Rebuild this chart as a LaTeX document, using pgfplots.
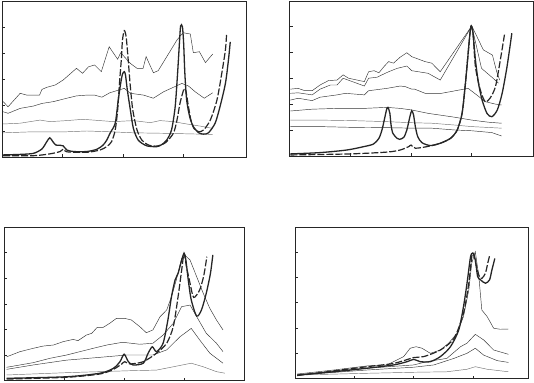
\documentclass[border=0pt]{standalone}
\usepackage{pgfplots}
\pgfplotsset{compat=1.18}
\pgfplotsset{
  panel/.style={
    scale only axis, anchor=south west,
    xmin=0, ymin=0,
    xtick={1,2,3}, ytick={1,2,3,4,5},
    xticklabels={,,}, yticklabels={,,,,},
    tick pos=left, tick align=inside,
    major tick length=3pt,
    axis line style={line width=0.8pt, black!85},
    every tick/.style={line width=0.6pt, black!85},
    clip=true,
  },
  thin/.style={line width=0.45pt, black!80, no marks},
  thinl/.style={line width=0.45pt, black!55, no marks},
  sol/.style={line width=1.3pt, black!85, no marks, smooth, tension=0.45},
  dsh/.style={line width=1.2pt, black!85, no marks, smooth, tension=0.45, dash pattern=on 7pt off 2pt},
}
\begin{document}
\begin{tikzpicture}[x=1pt,y=1pt]
\path[use as bounding box] (0,0) rectangle (534,382);

% ---------------- Panel 1 (top left)
\begin{axis}[panel, at={(2pt,225pt)}, width=244pt, height=156pt, xmax=4.03, ymax=6]
\addplot[thin] coordinates {(0.02,2.13)(0.10,1.93)(0.30,2.45)(0.41,2.38)(0.62,2.38)(0.66,2.60)(0.74,2.68)(0.88,2.77)(1.01,2.96)(1.23,3.41)(1.33,3.22)(1.43,3.47)(1.53,3.54)(1.64,3.28)(1.77,4.24)(1.91,3.76)(1.96,4.01)(2.12,3.60)(2.23,3.41)(2.33,3.41)(2.38,3.86)(2.50,3.24)(2.58,3.32)(2.89,4.50)(2.99,4.78)(3.11,4.73)(3.16,4.01)(3.26,4.05)(3.36,3.63)(3.48,3.96)};
\addplot[thin] coordinates {(0.02,1.74)(0.10,1.68)(0.30,1.87)(0.52,1.96)(0.66,2.06)(0.85,2.13)(1.07,2.26)(1.23,2.35)(1.40,2.38)(1.53,2.38)(1.65,2.30)(1.78,2.47)(2.02,2.64)(2.12,2.45)(2.34,2.38)(2.50,2.26)(2.67,2.51)(2.83,2.68)(2.97,2.83)(3.08,2.73)(3.19,2.51)(3.34,2.26)(3.48,2.47)};
\addplot[thinl] coordinates {(0.02,1.27)(0.30,1.30)(0.63,1.42)(0.79,1.36)(1.07,1.40)(1.34,1.45)(1.62,1.40)(1.84,1.36)(2.17,1.40)(2.45,1.32)(2.61,1.40)(2.83,1.36)(3.05,1.27)(3.27,1.19)(3.48,1.10)};
\addplot[thinl] coordinates {(0.02,0.93)(0.52,0.97)(1.07,0.97)(1.40,1.00)(1.78,0.97)(2.17,0.93)(2.72,0.91)(3.27,0.88)(3.48,0.87)};
\addplot[sol] coordinates {(0.02,0.08)(0.30,0.10)(0.52,0.14)(0.66,0.31)(0.74,0.59)(0.79,0.74)(0.84,0.59)(0.89,0.46)(0.96,0.45)(1.01,0.43)(1.07,0.27)(1.18,0.21)(1.40,0.21)(1.57,0.30)(1.67,0.46)(1.73,0.65)(1.79,0.94)(1.87,1.30)(1.92,2.19)(1.96,2.83)(1.99,3.19)(2.02,3.28)(2.04,3.15)(2.07,2.58)(2.12,1.81)(2.17,1.10)(2.25,0.65)(2.39,0.43)(2.56,0.40)(2.64,0.48)(2.72,0.65)(2.80,1.04)(2.86,1.93)(2.90,3.22)(2.93,4.37)(2.95,5.04)(2.98,5.01)(3.00,4.37)(3.02,3.22)(3.05,2.19)(3.10,1.55)(3.16,1.17)(3.25,0.93)(3.33,0.88)(3.41,0.93)(3.52,1.30)(3.60,1.93)(3.69,2.83)(3.74,3.73)(3.77,4.43)};
\addplot[dsh] coordinates {(0.02,0.05)(0.52,0.05)(0.79,0.12)(0.96,0.21)(1.01,0.30)(1.07,0.20)(1.40,0.18)(1.62,0.27)(1.73,0.40)(1.81,0.59)(1.87,1.04)(1.91,1.81)(1.94,2.83)(1.97,3.73)(1.99,4.50)(2.02,4.86)(2.05,4.63)(2.08,3.86)(2.12,2.70)(2.16,1.81)(2.23,1.04)(2.31,0.65)(2.42,0.46)(2.56,0.42)(2.70,0.55)(2.83,0.91)(2.89,1.42)(2.94,2.07)(2.99,2.51)(3.01,2.64)(3.04,2.51)(3.08,1.93)(3.12,1.42)(3.17,1.10)(3.25,0.97)(3.33,1.04)(3.44,1.42)(3.55,2.19)(3.63,3.22)(3.69,4.12)(3.71,4.76)};
\end{axis}

% ---------------- Panel 2 (top right)
\begin{axis}[panel, at={(289.7pt,226pt)}, width=244pt, height=155pt, xmax=4.02, ymax=5.96]
\addplot[thin] coordinates {(0.01,2.57)(0.14,2.60)(0.25,2.51)(0.37,2.51)(0.50,2.73)(0.64,2.90)(0.78,2.92)(0.88,3.12)(0.97,2.99)(1.23,2.86)(1.30,3.24)(1.39,3.28)(1.47,3.20)(1.55,3.43)(1.63,3.63)(1.71,3.57)(1.82,3.80)(1.93,3.97)(2.01,3.82)(2.23,3.63)(2.34,3.57)(2.48,3.24)(3.00,5.00)(3.19,4.08)(3.34,3.88)(3.41,3.24)(3.46,2.92)};
\addplot[thin] coordinates {(0.01,2.41)(0.14,2.43)(0.37,2.35)(0.50,2.57)(0.67,2.73)(0.78,2.73)(0.88,2.99)(1.23,2.69)(1.30,2.99)(1.44,3.03)(1.52,3.12)(1.63,3.24)(1.77,3.37)(1.93,3.46)(2.01,3.28)(2.28,3.18)(2.48,2.92)(3.00,5.00)(3.16,3.37)(3.35,2.99)(3.44,2.80)};
\addplot[thin] coordinates {(0.01,2.15)(0.14,2.22)(0.37,2.13)(0.50,2.26)(0.78,2.35)(0.92,2.41)(1.23,2.35)(1.30,2.51)(1.60,2.60)(1.82,2.69)(1.90,2.67)(2.01,2.57)(2.06,2.57)(2.23,2.41)(2.50,2.41)(2.94,2.60)(3.08,2.35)(3.22,2.09)(3.38,2.00)(3.49,1.96)};
\addplot[thin] coordinates {(0.01,1.73)(0.37,1.80)(0.78,1.83)(1.22,1.83)(1.60,1.87)(1.82,1.83)(2.01,1.77)(2.28,1.64)(2.72,1.49)(3.00,1.38)(3.27,1.30)(3.49,1.26)};
\addplot[thinl] coordinates {(0.01,1.38)(0.50,1.38)(1.05,1.36)(1.60,1.32)(2.01,1.28)(2.34,1.26)(2.72,1.19)(3.00,1.13)(3.49,1.07)};
\addplot[thin] coordinates {(0.01,1.13)(0.50,1.13)(1.05,1.10)(1.60,1.09)(2.01,1.07)(2.34,1.07)(2.72,1.00)(3.00,0.97)(3.33,0.90)(3.49,0.77)};
\addplot[sol] coordinates {(0.01,0.08)(0.50,0.13)(0.94,0.23)(1.22,0.36)(1.38,0.46)(1.47,0.68)(1.52,1.00)(1.55,1.30)(1.58,1.62)(1.60,1.82)(1.62,1.87)(1.65,1.64)(1.67,1.19)(1.70,0.87)(1.77,0.68)(1.81,0.64)(1.88,0.72)(1.93,1.00)(1.98,1.51)(2.01,1.74)(2.04,1.58)(2.07,1.13)(2.11,0.74)(2.18,0.51)(2.32,0.40)(2.48,0.49)(2.65,0.68)(2.76,1.00)(2.84,1.64)(2.89,2.67)(2.93,3.69)(2.97,4.72)(2.99,5.00)(3.02,4.72)(3.06,3.69)(3.11,2.80)(3.17,2.15)(3.25,1.64)(3.33,1.51)(3.42,1.77)(3.50,2.41)(3.58,3.43)(3.66,4.72)};
\addplot[dsh] coordinates {(0.01,0.04)(0.99,0.08)(1.60,0.15)(1.82,0.23)(1.96,0.36)(2.00,0.42)(2.07,0.30)(2.26,0.36)(2.48,0.49)(2.65,0.68)(2.76,1.00)(2.84,1.64)(2.89,2.67)(2.93,3.69)(2.97,4.72)(2.99,5.00)(3.02,4.72)(3.06,3.43)(3.14,2.54)(3.22,2.09)(3.30,2.22)(3.39,2.67)(3.47,3.69)(3.54,4.69)};
\end{axis}

% ---------------- Panel 3 (bottom left)
\begin{axis}[panel, at={(4.3pt,1.4pt)}, width=239.7pt, height=153.3pt, xmax=4.0, ymax=5.99]
\addplot[thin] coordinates {(0.04,0.93)(0.26,1.13)(0.48,1.26)(0.65,1.35)(0.82,1.39)(0.98,1.52)(1.15,1.61)(1.23,1.56)(1.37,1.78)(1.46,1.85)(1.55,2.08)(1.65,2.08)(1.76,2.24)(1.87,2.43)(2.01,2.43)(2.12,2.37)(2.26,2.11)(2.37,1.87)(2.48,1.98)(2.60,2.50)(2.71,2.76)(2.79,3.28)(2.87,3.93)(2.96,4.78)(3.01,4.91)(3.10,4.71)(3.21,4.06)(3.32,3.41)(3.43,2.82)(3.54,2.37)(3.65,1.98)};
\addplot[thin] coordinates {(0.04,0.52)(0.26,0.61)(0.48,0.70)(0.76,0.87)(1.04,1.00)(1.26,1.13)(1.48,1.26)(1.71,1.39)(1.93,1.48)(2.04,1.48)(2.26,1.42)(2.48,1.46)(2.65,1.78)(2.82,2.24)(2.96,2.89)(3.10,2.95)(3.21,2.50)(3.37,1.85)(3.54,1.46)(3.65,1.13)};
\addplot[thin] coordinates {(0.04,0.44)(0.48,0.61)(1.04,0.80)(1.60,0.91)(2.04,1.00)(2.48,1.00)(2.71,1.20)(2.93,1.71)(3.12,2.04)(3.26,1.59)(3.43,1.07)(3.65,0.68)};
\addplot[thinl] coordinates {(0.04,0.22)(0.48,0.26)(1.04,0.31)(1.60,0.35)(2.15,0.39)(2.54,0.41)(2.82,0.54)(3.12,0.68)(3.32,0.54)(3.54,0.35)(3.68,0.29)};
\addplot[sol] coordinates {(0.04,0.09)(1.04,0.15)(1.60,0.29)(1.82,0.48)(1.93,0.74)(2.00,1.03)(2.07,0.74)(2.15,0.61)(2.32,0.68)(2.40,1.07)(2.47,1.32)(2.54,1.13)(2.65,1.46)(2.73,2.37)(2.79,3.28)(2.85,3.93)(2.90,4.19)(2.96,4.71)(3.00,4.97)(3.03,4.71)(3.07,3.93)(3.12,3.15)(3.21,2.52)(3.29,2.76)(3.37,3.41)(3.44,4.19)(3.48,4.91)};
\addplot[dsh] coordinates {(0.04,0.06)(1.04,0.13)(1.60,0.26)(1.82,0.44)(1.96,0.65)(2.01,0.74)(2.10,0.65)(2.32,0.74)(2.54,1.07)(2.71,1.46)(2.82,2.11)(2.90,3.28)(2.96,4.32)(3.00,4.97)(3.04,4.45)(3.10,3.80)(3.16,3.25)(3.26,3.54)(3.33,4.12)(3.38,4.84)};
\end{axis}

% ---------------- Panel 4 (bottom right)
\begin{axis}[panel, at={(295.3pt,3.4pt)}, width=232.7pt, height=151.3pt, xmax=3.93, ymax=5.98]
\addplot[thin] coordinates {(0.03,0.18)(0.65,0.34)(1.21,0.50)(1.55,0.54)(1.66,0.67)(1.83,0.87)(1.94,1.20)(2.04,1.26)(2.14,1.20)(2.28,1.00)(2.45,1.13)(2.59,1.40)(2.73,1.79)(2.84,2.45)(2.93,3.50)(2.98,4.56)(3.04,5.02)(3.10,4.03)(3.15,2.71)(3.24,2.45)(3.35,1.99)(3.46,1.95)(3.60,1.96)};
\addplot[thin] coordinates {(0.03,0.14)(1.21,0.41)(2.00,0.54)(2.22,0.67)(2.56,0.80)(2.79,1.26)(2.90,1.40)(3.04,1.75)(3.18,1.53)(3.35,1.13)(3.60,0.96)};
\addplot[thin] coordinates {(0.03,0.14)(1.21,0.34)(2.00,0.45)(2.34,0.54)(2.68,0.80)(2.90,1.00)(3.04,1.20)(3.18,0.93)(3.41,0.71)(3.60,0.64)};
\addplot[thinl] coordinates {(0.03,0.14)(1.21,0.21)(2.00,0.25)(2.56,0.27)(2.90,0.37)(3.04,0.47)(3.24,0.37)(3.60,0.27)};
\addplot[sol] coordinates {(0.03,0.14)(0.65,0.27)(1.21,0.41)(1.66,0.54)(1.89,0.67)(2.00,0.76)(2.11,0.67)(2.28,0.67)(2.45,0.87)(2.62,1.26)(2.76,1.92)(2.84,2.84)(2.90,3.77)(2.96,4.82)(3.00,4.95)(3.04,4.69)(3.08,4.03)(3.13,3.90)(3.21,3.77)(3.28,3.90)(3.32,4.29)(3.37,4.75)};
\addplot[dsh] coordinates {(0.03,0.12)(1.21,0.47)(1.66,0.60)(2.00,0.83)(2.17,0.87)(2.45,1.13)(2.68,1.59)(2.84,2.58)(2.93,3.77)(2.98,4.82)(3.01,4.95)(3.06,4.42)(3.11,4.03)(3.15,3.96)(3.21,4.16)(3.25,4.56)(3.28,4.85)};
\end{axis}
\end{tikzpicture}
\end{document}
